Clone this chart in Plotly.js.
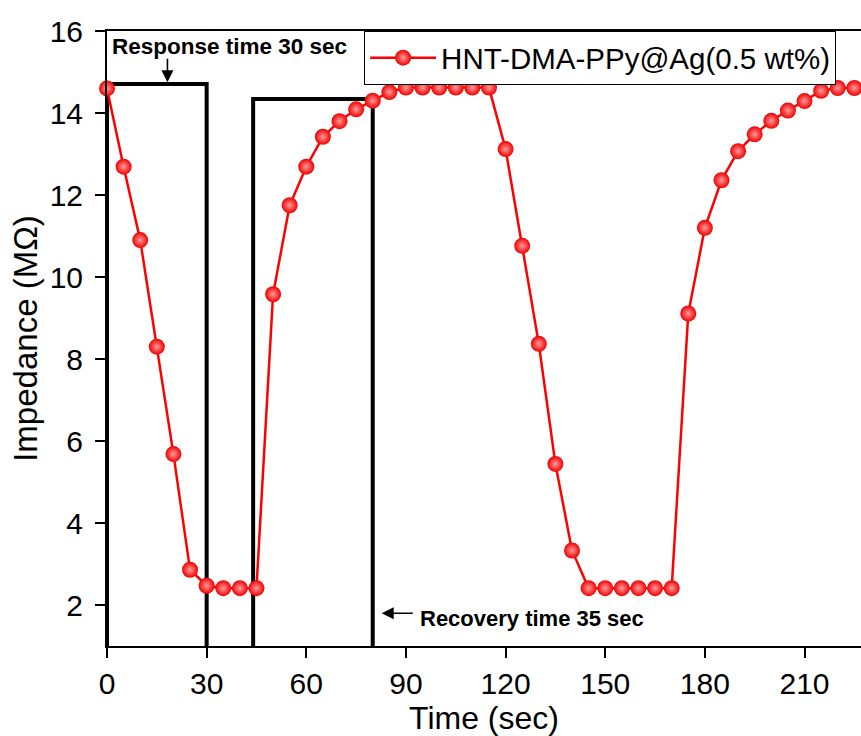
<!DOCTYPE html>
<html>
<head>
<meta charset="utf-8">
<script src="https://cdn.plot.ly/plotly-3.0.1.min.js"></script>
<style>html,body{margin:0;padding:0;background:#fff;}#chart{width:861px;height:736px;}</style>
</head>
<body>
<div id="chart"></div>
<script>
const timeSec = [0,5,10,15,20,25,30,35,40,45,50,55,60,65,70,75,80,85,90,95,100,105,110,115,120,125,130,135,140,145,150,155,160,165,170,175,180,185,190,195,200,205,210,215,220,225];
const impedance = [14.6,12.69,10.9,8.3,5.68,2.86,2.47,2.41,2.41,2.41,9.58,11.75,12.69,13.42,13.8,14.09,14.3,14.51,14.62,14.62,14.62,14.62,14.62,14.62,13.12,10.76,8.37,5.44,3.33,2.41,2.41,2.41,2.41,2.41,2.41,9.11,11.2,12.36,13.07,13.48,13.81,14.06,14.29,14.54,14.61,14.61];
const seriesName = 'HNT-DMA-PPy@Ag(0.5 wt%)';
const xTicks = [0,30,60,90,120,150,180,210];
const yTicks = [2,4,6,8,10,12,14,16];
// boxes: [start, end, top]
const responseBox = [0, 30, 14.71];
const recoveryBox = [44, 80, 14.34];
const responseLabel = 'Response time 30 sec';
const recoveryLabel = 'Recovery time 35 sec';
const responseArrowTip = [18.2, 14.75];
const recoveryArrowTip = [82.7, 1.8];
const yMin = 1, yMax = 16, xMin = 0, xMax = 227;

function boxPath(b){
  return `M ${b[0]},${yMin} L ${b[0]},${b[2]} L ${b[1]},${b[2]} L ${b[1]},${yMin}`;
}

const trace = {
  x: timeSec, y: impedance, type: 'scatter', mode: 'lines+markers', name: seriesName,
  line: {color: '#ff0000', width: 2.5},
  marker: {color: '#f00000', size: 16, line: {width: 0},
           gradient: {type: 'radial', color: '#ff9a9a'}},
  cliponaxis: false
};

const layout = {
  width: 861, height: 736,
  margin: {l: 107, r: 0, t: 31, b: 90},
  paper_bgcolor: '#fff', plot_bgcolor: '#fff',
  font: {family: 'Liberation Sans, Arial, sans-serif', color: '#000'},
  showlegend: true,
  legend: {x: 0.341, y: 1, xanchor: 'left', yanchor: 'top', bgcolor: '#fff',
           bordercolor: '#000', borderwidth: 1, font: {size: 29.5}, itemwidth: 66},
  xaxis: {range: [xMin, xMax], tickvals: xTicks, ticktext: xTicks.map(String),
          showgrid: false, zeroline: false, showline: true, linecolor: '#000', linewidth: 2,
          mirror: true, ticks: 'outside', ticklen: 10, tickwidth: 2, tickcolor: '#000',
          tickfont: {size: 30}, title: {text: 'Time (sec)', font: {size: 32}, standoff: 4}},
  yaxis: {range: [yMin, yMax], tickvals: yTicks, ticktext: yTicks.map(String),
          showgrid: false, zeroline: false, showline: true, linecolor: '#000', linewidth: 2,
          ticks: 'outside', ticklen: 10, tickwidth: 2, tickcolor: '#000',
          ticklabelstandoff: 6,
          tickfont: {size: 30}, title: {text: 'Impedance (MΩ)', font: {size: 33}, standoff: 2}},
  shapes: [
    {type: 'path', xref: 'x', yref: 'y', path: boxPath(responseBox), line: {color: '#000', width: 4}, layer: 'below'},
    {type: 'path', xref: 'x', yref: 'y', path: boxPath(recoveryBox), line: {color: '#000', width: 4}, layer: 'below'}
  ],
  annotations: [
    {xref: 'x', yref: 'y', x: responseArrowTip[0], y: 15.63, text: '<b>' + responseLabel + '</b>',
     showarrow: false, xanchor: 'left', xshift: -57, font: {size: 22.5, color: '#000'}},
    {xref: 'x', yref: 'y', x: responseArrowTip[0], y: responseArrowTip[1], text: ' ',
     showarrow: true, ax: 0, ay: -32, arrowhead: 2, arrowsize: 1.5, arrowwidth: 1.6, arrowcolor: '#000', standoff: 0},
    {xref: 'x', yref: 'y', x: recoveryArrowTip[0], y: 1.66, text: '<b>' + recoveryLabel + '</b>',
     showarrow: false, xanchor: 'left', xshift: 36, font: {size: 22, color: '#000'}},
    {xref: 'x', yref: 'y', x: recoveryArrowTip[0], y: recoveryArrowTip[1], text: ' ',
     showarrow: true, ax: 34, ay: 0, arrowhead: 2, arrowsize: 1.5, arrowwidth: 1.6, arrowcolor: '#000', standoff: 0}
  ]
};

Plotly.newPlot('chart', [trace], layout, {displayModeBar: false, staticPlot: true});
</script>
</body>
</html>
